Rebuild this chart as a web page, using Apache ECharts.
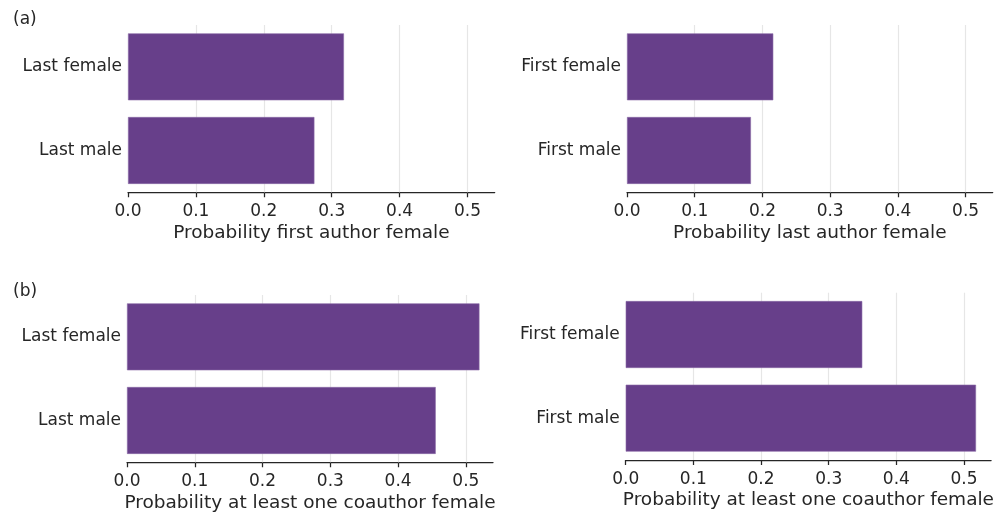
<!DOCTYPE html>
<html>
<head>
<meta charset="utf-8">
<script src="https://cdn.jsdelivr.net/npm/echarts@6/dist/echarts.min.js"></script>
<style>html,body{margin:0;padding:0;background:#fff}#c{width:996px;height:514px}</style>
</head>
<body>
<div id="c"></div>
<script>
const catsLast = ['Last female', 'Last male'];
const catsFirst = ['First female', 'First male'];
const firstAuthorFemale = [0.318, 0.2745];
const lastAuthorFemale = [0.216, 0.183];
const coauthorByLast = [0.520, 0.4555];
const coauthorByFirst = [0.3496, 0.5177];
const xTicks = [0, 0.1, 0.2, 0.3, 0.4, 0.5];
const xNames = ['Probability first author female', 'Probability last author female',
  'Probability at least one coauthor female', 'Probability at least one coauthor female'];
const panelLabels = ['(a)', '(b)'];

const FONT = 'DejaVu Sans';
const TXT = '#262626';
const BAR = '#673f8a';

const grids = [
  {left: 128, top: 25, width: 366.7, height: 167.3},
  {left: 627, top: 25, width: 365.7, height: 167.3},
  {left: 127, top: 295, width: 366, height: 167.3},
  {left: 625.7, top: 292.7, width: 366, height: 167.3}
];
const cats = [catsLast, catsFirst, catsLast, catsFirst];
const vals = [firstAuthorFemale, lastAuthorFemale, coauthorByLast, coauthorByFirst];

const option = {
  animation: false,
  backgroundColor: '#fff',
  textStyle: {fontFamily: FONT},
  title: [
    {text: panelLabels[0], left: 8, top: 6, textStyle: {fontFamily: FONT, fontSize: 17, fontWeight: 'normal', color: TXT}},
    {text: panelLabels[1], left: 8, top: 278, textStyle: {fontFamily: FONT, fontSize: 17, fontWeight: 'normal', color: TXT}}
  ],
  grid: grids.map(g => Object.assign({containLabel: false}, g)),
  xAxis: grids.map((g, i) => ({
    type: 'value', gridIndex: i, min: 0, max: 0.54, interval: 0.1,
    name: xNames[i], nameLocation: 'middle', nameGap: 31,
    nameTextStyle: {fontFamily: FONT, fontSize: 18.5, color: TXT},
    axisLine: {show: true, lineStyle: {color: TXT, width: 1.25}},
    axisTick: {show: true, length: 5, lineStyle: {color: TXT, width: 1.25}, customValues: xTicks},
    axisLabel: {fontFamily: FONT, fontSize: 17, color: TXT, margin: 11, customValues: xTicks,
      formatter: v => v.toFixed(1)},
    splitLine: {show: false}
  })),
  yAxis: grids.map((g, i) => ({
    type: 'category', gridIndex: i, data: cats[i], inverse: true,
    axisLine: {show: false}, axisTick: {show: false},
    axisLabel: {fontFamily: FONT, fontSize: 17, color: TXT, margin: 6, padding: [4, 0, 0, 0]},
    splitLine: {show: false}
  })),
  series: []
};
grids.forEach((g, i) => {
  option.series.push({
    type: 'line', xAxisIndex: i, yAxisIndex: i, data: [], z: 1, silent: true,
    markLine: {
      silent: true, symbol: 'none', label: {show: false}, z: 1,
      lineStyle: {color: '#e6e6e6', width: 1.2, type: 'solid'},
      data: xTicks.filter(t => t > 0).map(t => ({xAxis: t}))
    }
  });
  option.series.push({
    type: 'bar', xAxisIndex: i, yAxisIndex: i, data: vals[i], z: 3,
    barCategoryGap: '20%',
    itemStyle: {color: BAR, borderColor: '#8a6aa6', borderWidth: 0.6}
  });
});
const chart = echarts.init(document.getElementById('c'), null, {renderer: 'canvas'});
chart.setOption(option);
</script>
</body>
</html>
